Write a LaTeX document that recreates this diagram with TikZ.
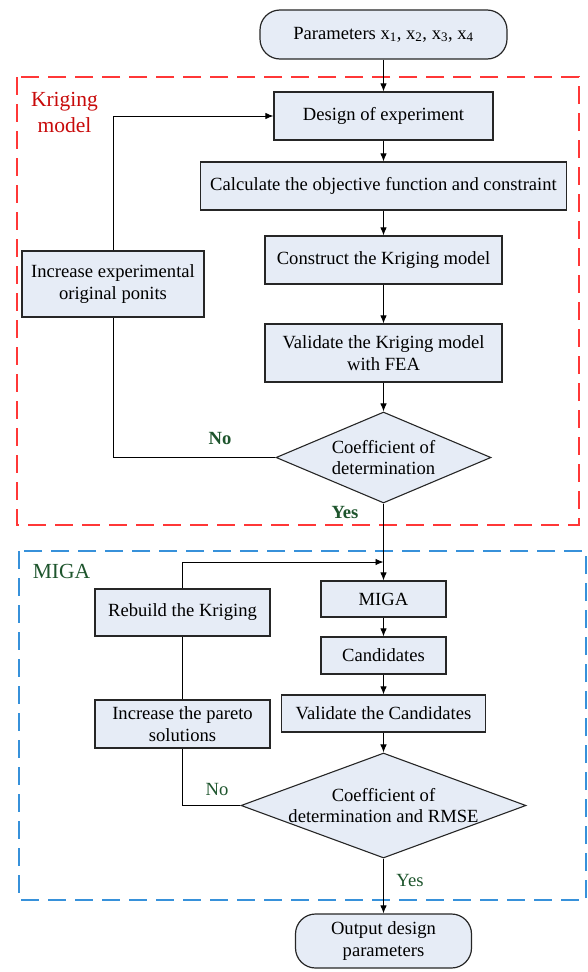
\documentclass[tikz,border=0pt]{standalone}
\usepackage{fontspec}
\setmainfont{Liberation Serif}
\usetikzlibrary{shapes.geometric,arrows.meta}

\definecolor{boxfill}{RGB}{230,236,246}
\definecolor{krigred}{RGB}{255,55,55}
\definecolor{kriglabel}{RGB}{200,10,10}
\definecolor{migablue}{RGB}{55,145,218}
\definecolor{labelgreen}{RGB}{30,85,45}

\tikzset{
	box/.style={shape=rectangle, draw=black!85, line width=1.2pt, fill=boxfill, inner sep=0pt, align=center},
	term/.style={box, rounded corners=20pt},
	decision/.style={shape=diamond, draw=black!85, line width=1.1pt, fill=boxfill, inner sep=0pt, align=center},
	region/.style={dash pattern=on 18pt off 9pt, line width=1.5pt},
	yesno/.style={text=labelgreen},
	grouptext/.style={font=\fontsize{21.5}{26}\selectfont, align=center},
}

\begin{document}
\begin{tikzpicture}[x=1pt, y=-1pt, >={Latex[length=8pt,width=6.5pt]}, font=\fontsize{18.6}{21.7}\selectfont, line width=0.9pt]
	\useasboundingbox (0,0) rectangle (588,972);
	
	\draw [region, draw=krigred] (17,77) rectangle (579,525);
	\draw [region, draw=migablue] (19,551) rectangle (586,900);
	\node [grouptext, text=kriglabel] (kriglbl) at (64.5,112) {Kriging\\model};
	\node [grouptext, text=labelgreen, anchor=west] (migalbl) at (29,571) {MIGA};
	
	\node [term, minimum width=247pt, minimum height=49pt] (start) at (383.5,34.5) {Parameters x\textsubscript{1}, x\textsubscript{2}, x\textsubscript{3}, x\textsubscript{4}};
	\node [box, minimum width=219pt, minimum height=48pt] (doe) at (383.5,116) {Design of experiment};
	\node [box, minimum width=366pt, minimum height=48pt] (calc) at (383.5,186) {Calculate the objective function and constraint};
	\node [box, minimum width=237pt, minimum height=48pt] (cons) at (383.5,260) {Construct the Kriging model};
	\node [box, minimum width=237pt, minimum height=58pt] (valk) at (383.5,353) {Validate the Kriging model\\with FEA};
	\node [decision, minimum width=215pt, minimum height=91pt, aspect=2.36] (dec1) at (383.5,457.5) {Coefficient of\\determination};
	\node [box, minimum width=182pt, minimum height=66pt] (inc1) at (113,284) {Increase experimental\\original ponits};
	
	\node [box, minimum width=125pt, minimum height=36pt] (miga) at (383.5,599) {MIGA};
	\node [box, minimum width=125pt, minimum height=37pt] (cand) at (383.5,655.5) {Candidates};
	\node [box, minimum width=204pt, minimum height=37pt] (valc) at (383.5,713.5) {Validate the Candidates};
	\node [decision, minimum width=285pt, minimum height=105pt, aspect=2.71, inner xsep=-4pt] (dec2) at (383.5,805.5) {Coefficient of\\determination and RMSE};
	\node [box, minimum width=175pt, minimum height=47pt] (rebuild) at (182.5,612.5) {Rebuild the Kriging};
	\node [box, minimum width=175pt, minimum height=48pt] (pareto) at (182.5,724) {Increase the pareto\\solutions};
	\node [term, minimum width=176pt, minimum height=54pt] (final) at (383.5,941) {Output design\\parameters};
	
	\node [yesno] (no1) at (220,438) {\textbf{No}};
	\node [yesno] (yes1) at (345,512) {\textbf{Yes}};
	\node [yesno] (no2) at (217,789) {No};
	\node [yesno] (yes2) at (410,880) {Yes};
	\coordinate (back) at (383.5,562);
	
	\path [->] (start) edge (doe);
	\path [->] (doe) edge (calc);
	\path [->] (calc) edge (cons);
	\path [->] (cons) edge (valk);
	\path [->] (valk) edge (dec1);
	\draw (dec1.west) -| (inc1.south);
	\draw [->] (inc1.north) |- (doe.west);
	\path [->] (dec1) edge (miga);
	\path [->] (miga) edge (cand);
	\path [->] (cand) edge (valc);
	\path [->] (valc) edge (dec2);
	\draw (dec2.west) -| (pareto.south);
	\path [-] (pareto) edge (rebuild);
	\draw [->] (rebuild.north) |- (back);
	\path [->] (dec2) edge (final);
\end{tikzpicture}
\end{document}
